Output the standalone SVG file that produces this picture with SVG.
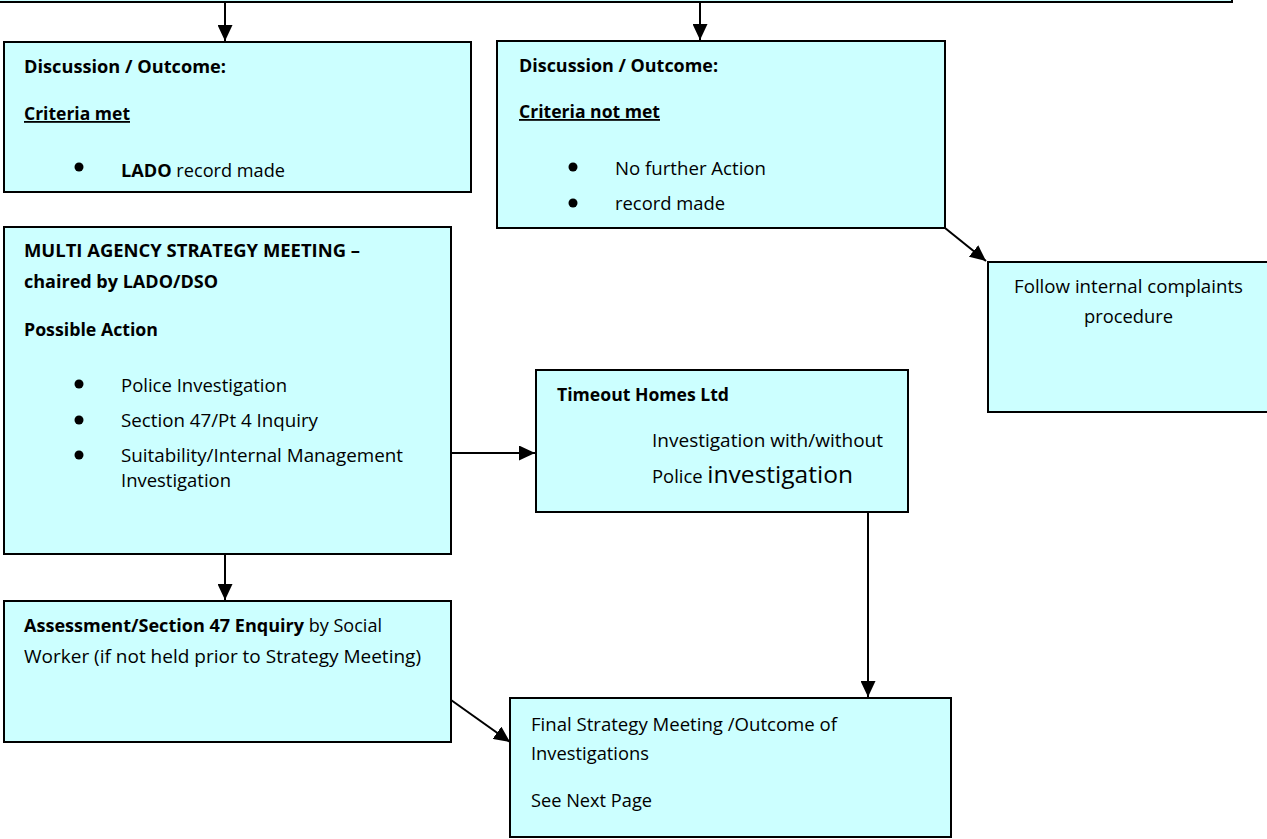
<svg xmlns="http://www.w3.org/2000/svg" width="1267" height="839" viewBox="0 0 1267 839">
<defs>
<style>
.box{fill:#ccffff;stroke:#000;stroke-width:2}
.t{font-family:"Open Sans","Liberation Sans",sans-serif;font-size:18px;fill:#000}
.b{font-weight:bold}
.u{text-decoration:underline}
.bul{fill:#000}
.con{stroke:#000;stroke-width:2;fill:none;marker-end:url(#ah)}
</style>
<marker id="ah" markerUnits="userSpaceOnUse" markerWidth="16" markerHeight="15" refX="16" refY="7.5" orient="auto">
<path d="M0,0 L16,7.5 L0,15 z" fill="#000"/>
</marker>
</defs>
<rect width="1267" height="839" fill="#fff"/>

<g id="top">
<rect class="box" x="-4" y="-40" width="1236" height="42"/>
</g>

<g id="criteria-met">
<rect class="box" x="4" y="42" width="467" height="150"/>
<text class="t b" x="24" y="73" font-size="17" textLength="202" lengthAdjust="spacingAndGlyphs">Discussion / Outcome:</text>
<text class="t b u" x="24" y="120" font-size="17" textLength="106" lengthAdjust="spacingAndGlyphs">Criteria met</text>
<circle class="bul" cx="79" cy="167" r="4.5"/>
<text class="t" x="121" y="177" textLength="164" lengthAdjust="spacingAndGlyphs"><tspan class="b">LADO</tspan> record made</text>
</g>

<g id="criteria-not-met">
<rect class="box" x="497" y="41" width="448" height="187"/>
<text class="t b" x="519" y="72" font-size="17" textLength="199" lengthAdjust="spacingAndGlyphs">Discussion / Outcome:</text>
<text class="t b u" x="519" y="118" font-size="17" textLength="141" lengthAdjust="spacingAndGlyphs">Criteria not met</text>
<circle class="bul" cx="573" cy="167" r="4.5"/>
<circle class="bul" cx="573" cy="203" r="4.5"/>
<text class="t" x="615" y="175" textLength="151" lengthAdjust="spacingAndGlyphs">No further Action</text>
<text class="t" x="615" y="210" textLength="110" lengthAdjust="spacingAndGlyphs">record made</text>
</g>

<g id="complaints">
<rect class="box" x="988" y="262" width="282" height="150"/>
<text class="t" x="1128.5" y="293" text-anchor="middle" textLength="229" lengthAdjust="spacingAndGlyphs">Follow internal complaints</text>
<text class="t" x="1128.5" y="323" text-anchor="middle" textLength="89" lengthAdjust="spacingAndGlyphs">procedure</text>
</g>

<g id="strategy-meeting">
<rect class="box" x="4" y="227" width="447" height="327"/>
<text class="t b" x="24" y="257" font-size="17" textLength="336" lengthAdjust="spacingAndGlyphs">MULTI AGENCY STRATEGY MEETING –</text>
<text class="t b" x="24" y="288" font-size="17" textLength="194" lengthAdjust="spacingAndGlyphs">chaired by LADO/DSO</text>
<text class="t b" x="24" y="336" font-size="17" textLength="134" lengthAdjust="spacingAndGlyphs">Possible Action</text>
<circle class="bul" cx="79" cy="384" r="4.5"/>
<circle class="bul" cx="79" cy="420" r="4.5"/>
<circle class="bul" cx="79" cy="455" r="4.5"/>
<text class="t" x="121" y="392" textLength="166" lengthAdjust="spacingAndGlyphs">Police Investigation</text>
<text class="t" x="121" y="427" textLength="197" lengthAdjust="spacingAndGlyphs">Section 47/Pt 4 Inquiry</text>
<text class="t" x="121" y="462" textLength="282" lengthAdjust="spacingAndGlyphs">Suitability/Internal Management</text>
<text class="t" x="121" y="487" textLength="110" lengthAdjust="spacingAndGlyphs">Investigation</text>
</g>

<g id="timeout">
<rect class="box" x="536" y="370" width="372" height="142"/>
<text class="t b" x="557" y="401" font-size="15" textLength="172" lengthAdjust="spacingAndGlyphs">Timeout Homes Ltd</text>
<text class="t" x="652" y="447" font-size="16" textLength="231" lengthAdjust="spacingAndGlyphs">Investigation with/without</text>
<text class="t" x="652" y="483" font-size="16" textLength="201" lengthAdjust="spacingAndGlyphs">Police <tspan font-size="24">investigation</tspan></text>
</g>

<g id="assessment">
<rect class="box" x="4" y="601" width="447" height="141"/>
<text class="t" x="24" y="632" textLength="358" lengthAdjust="spacingAndGlyphs"><tspan class="b">Assessment/Section 47 Enquiry</tspan> by Social</text>
<text class="t" x="24" y="663" textLength="397" lengthAdjust="spacingAndGlyphs">Worker (if not held prior to Strategy Meeting)</text>
</g>

<g id="final">
<rect class="box" x="510" y="698" width="441" height="139"/>
<text class="t" x="531" y="731" textLength="306" lengthAdjust="spacingAndGlyphs">Final Strategy Meeting /Outcome of</text>
<text class="t" x="531" y="760" textLength="118" lengthAdjust="spacingAndGlyphs">Investigations</text>
<text class="t" x="531" y="807" textLength="121" lengthAdjust="spacingAndGlyphs">See Next Page</text>
</g>

<g id="connectors">
<line class="con" x1="225" y1="3" x2="225" y2="41"/>
<line class="con" x1="700" y1="3" x2="700" y2="40"/>
<line class="con" x1="945" y1="228" x2="986" y2="261"/>
<line class="con" x1="451" y1="453" x2="535" y2="453"/>
<line class="con" x1="868" y1="512" x2="868" y2="697"/>
<line class="con" x1="225" y1="554" x2="225" y2="600"/>
<line class="con" x1="451" y1="700" x2="510" y2="742"/>
</g>
</svg>
